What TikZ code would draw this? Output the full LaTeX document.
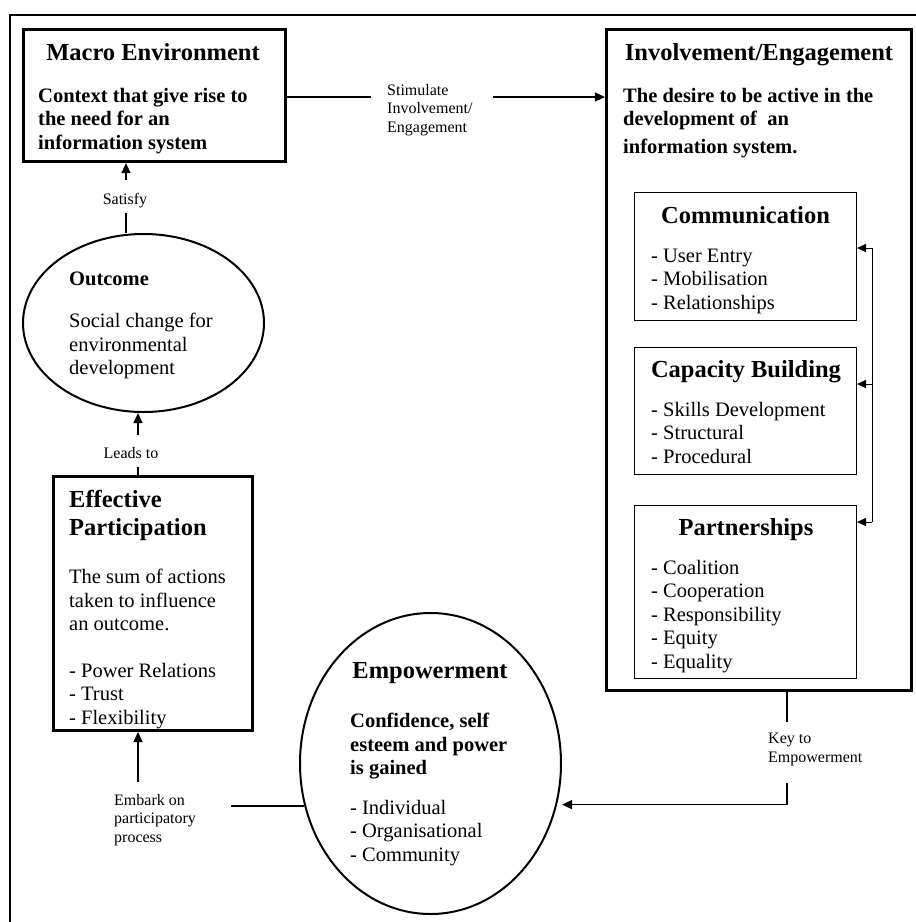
\documentclass[tikz,border=0pt]{standalone}
\usepackage{fontspec}
\setmainfont{Liberation Serif}
\usetikzlibrary{arrows.meta,shapes.geometric}

\begin{document}
\begin{tikzpicture}[x=1pt,y=-1pt,
  framerule/.style={line width=2pt},
  bigbox/.style={draw, line width=3.2pt, inner sep=0pt},
  subbox/.style={draw, line width=1.4pt, inner sep=0pt},
  oval/.style={draw, ellipse, line width=2pt, inner sep=0pt},
  ttl/.style={font=\fontsize{24.5}{28}\selectfont\bfseries, inner sep=0pt, anchor=base},
  ttlblock/.style={font=\fontsize{24.5}{28}\selectfont\bfseries, align=left, inner sep=0pt, anchor=north west},
  bodyb/.style={font=\fontsize{20.5}{23.5}\selectfont\bfseries, align=left, inner sep=0pt, anchor=north west},
  bodyr/.style={font=\fontsize{20.5}{23.5}\selectfont, align=left, inner sep=0pt, anchor=north west},
  lbl/.style={font=\fontsize{16}{18.5}\selectfont, align=left, inner sep=0pt, anchor=north west},
  conn/.style={line width=1.4pt},
  arr/.style={conn, -{Triangle[length=10pt,width=9pt]}},
  linkthin/.style={line width=1pt},
  linkarr/.style={linkthin, -{Triangle[length=9pt,width=8pt]}}
]
\useasboundingbox (0,0) rectangle (916,922);

% page frame (top and left rules)
\draw[framerule] (916,15) -- (10,15) -- (10,922);

% ---- boxes and ovals ----
\node[bigbox, minimum width=262pt, minimum height=132pt] (macro) at (154.5,95.5) {};
\node[bigbox, minimum width=305pt, minimum height=661pt] (inv) at (759,360) {};
\node[subbox, minimum width=221.6pt, minimum height=127.6pt] (comm) at (745.5,256.5) {};
\node[subbox, minimum width=221.6pt, minimum height=126.6pt] (capb) at (745.5,411) {};
\node[subbox, minimum width=221.6pt, minimum height=172.6pt] (partn) at (745.5,592) {};
\node[bigbox, minimum width=198.8pt, minimum height=253.8pt] (effp) at (153,603.5) {};
\node[oval, minimum width=241pt, minimum height=178pt] (outc) at (143.5,323) {};
\node[oval, minimum width=261pt, minimum height=301pt] (empw) at (430.5,763.5) {};

% ---- Macro Environment ----
\node[ttl] (macro-t) at (153,60) {Macro Environment};
\node[bodyb] (macro-b) at (38,88) {Context that give rise to\\the need for an\\information system};

% ---- Involvement / Engagement ----
\node[ttl] (inv-t) at (759,60) {Involvement/Engagement};
\node[bodyb] (inv-b) at (623,88) {The desire to be active in the\\development of \ an\\[4.5pt]information system.};

\node[ttl] (comm-t) at (745.5,223) {Communication};
\node[bodyr] (comm-b) at (651,248.5) {- User Entry\\- Mobilisation\\- Relationships};

\node[ttl] (capb-t) at (746,377) {Capacity Building};
\node[bodyr] (capb-b) at (651,402) {- Skills Development\\- Structural\\- Procedural};

\node[ttl] (partn-t) at (746,535) {Partnerships};
\node[bodyr] (partn-b) at (651,560) {- Coalition\\- Cooperation\\- Responsibility\\- Equity\\- Equality};

% ---- Outcome ----
\node[bodyb, anchor=base west] (outc-t) at (69,285) {Outcome};
\node[bodyr] (outc-b) at (69,313) {Social change for\\environmental\\development};

% ---- Effective Participation ----
\node[ttlblock] (effp-t) at (69,490.5) {Effective\\Participation};
\node[bodyr] (effp-b) at (69,569) {The sum of actions\\taken to influence\\an outcome.};
\node[bodyr] (effp-i) at (69,663) {- Power Relations\\- Trust\\- Flexibility};

% ---- Empowerment ----
\node[ttl] (empw-t) at (430,678) {Empowerment};
\node[bodyb] (empw-b) at (350,713) {Confidence, self\\esteem and power\\is gained};
\node[bodyr] (empw-i) at (350,800) {- Individual\\- Organisational\\- Community};

% ---- connector labels ----
\node[lbl] (stim) at (387,84) {Stimulate\\Involvement/\\Engagement};
\node[lbl, anchor=base] (satisfy) at (125,204) {Satisfy};
\node[lbl, anchor=base] (leads) at (131,458) {Leads to};
\node[lbl] (embark) at (114,794) {Embark on\\participatory\\process};
\node[lbl] (key) at (768,733) {Key to\\Empowerment};

% ---- connector break points around the labels ----
\coordinate (s1) at (371,97);
\coordinate (s2) at (493,97);
\coordinate (sa) at (126,180);
\coordinate (sb) at (126,213);
\coordinate (la) at (138,435);
\coordinate (lb) at (138,467);
\coordinate (ea) at (138,782);
\coordinate (eb) at (231,806);
\coordinate (ka) at (787,722);
\coordinate (kb) at (787,783);
\coordinate (r1) at (872,248);
\coordinate (r2) at (872,384);
\coordinate (r3) at (872,522);

% Macro -> Involvement
\draw[conn] (macro.east |- s1) -- (s1);
\draw[arr] (s2) -- (inv.west |- s2);

% Outcome -> Macro
\draw[arr] (sa) -- (macro.south -| sa);
\draw[conn] (sb) -- (outc.north -| sb);

% Effective Participation -> Outcome
\draw[arr] (la) -- (outc.south -| la);
\draw[conn] (lb) -- (effp.north -| lb);

% Empowerment -> Effective Participation
\draw[conn] (eb) -- (eb -| empw.198.7);
\draw[arr] (ea) -- (effp.south -| ea);

% Involvement -> Empowerment
\draw[conn] (inv.south -| ka) -- (ka);
\draw[arr, shorten >=5pt] (kb) |- (empw.-18.7);

% links between the three sub-boxes
\draw[linkthin] (r1) -- (r3);
\draw[linkarr] (r1) -- (comm.east |- r1);
\draw[linkarr] (r2) -- (capb.east |- r2);
\draw[linkarr] (r3) -- (partn.east |- r3);

\end{tikzpicture}
\end{document}
